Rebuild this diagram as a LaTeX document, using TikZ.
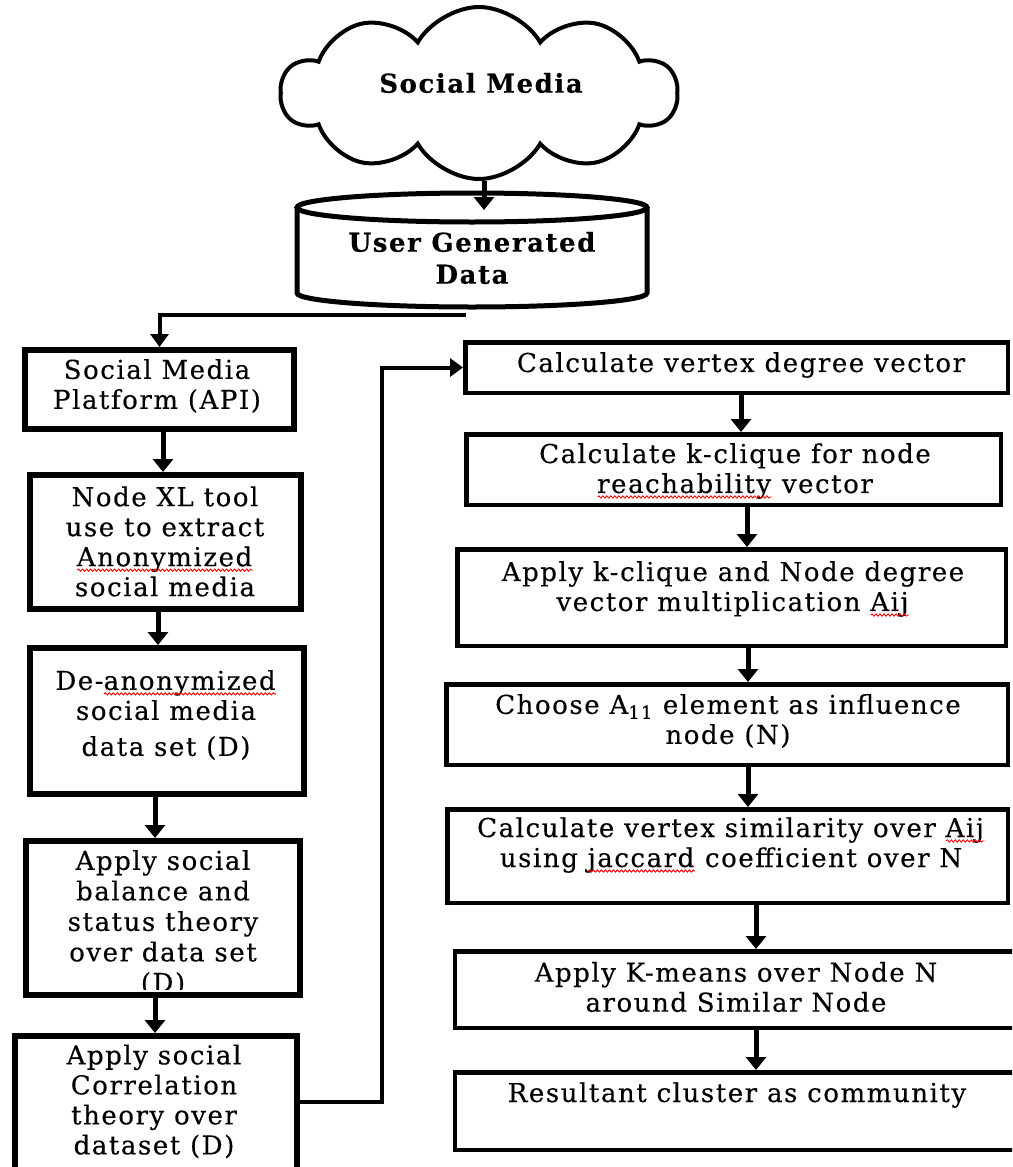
\documentclass[tikz,border=0pt]{standalone}
\usepackage{fontspec}
\setmainfont{DejaVu Serif}[LetterSpace=6,FakeBold=0.3]
\usetikzlibrary{arrows.meta,shapes.symbols,decorations.pathmorphing,calc}
\newsavebox\sqbox
\newcommand\sq[1]{\sbox\sqbox{#1}\rlap{\usebox\sqbox}\tikz[baseline=0pt]\draw[red,line width=0.9pt,decorate,decoration={snake,amplitude=1.1pt,segment length=4pt}] (0pt,-4pt) -- (\wd\sqbox,-4pt);}
\begin{document}
\begin{tikzpicture}[x=1pt,y=-1pt,
  txt/.style={align=center, font=\fontsize{26}{30}\selectfont, inner sep=0pt},
  btxt/.style={align=center, font=\fontsize{26}{32}\selectfont\bfseries, inner sep=0pt},
  lbox/.style={draw, line width=6pt, inner sep=0pt},
  rbox/.style={draw, line width=4.5pt, inner sep=0pt},
  arr/.style={line width=5pt, -{Triangle[length=13pt,width=20pt]}},
  thinarr/.style={line width=4pt, -{Triangle[length=13pt,width=18pt]}},
]
\useasboundingbox (0,0) rectangle (1012,1167);
\clip (0,0) rectangle (1012,1167);
\fill[white] (0,0) rectangle (1012,1167);

% cloud
\node[cloud, draw, line width=4pt, cloud puffs=10, cloud puff arc=120, cloud ignores aspect,
      minimum width=396pt, minimum height=172pt, inner sep=0pt] (cloud) at (479,93) {};
\node[btxt] (tcloud) at (481,83) {Social Media};

% cylinder
\node[minimum width=350pt, minimum height=114pt, inner sep=0pt] (db) at (472,250) {};
\draw[line width=5pt] (297,207.5) -- (297,293) arc[start angle=180,end angle=360,x radius=175pt,y radius=14pt] -- (647,207.5);
\draw[line width=5pt] (472,207.5) ellipse [x radius=175pt, y radius=14.5pt];
\node[btxt] (tdb) at (472,258) {User Generated\\Data};
\coordinate (dbtop) at (484,210);
\coordinate (dbout) at (466,315);

% left column
\node[lbox, minimum width=269pt, minimum height=79pt]  (L1) at (159.5,389.5) {};
\node[lbox, minimum width=271pt, minimum height=134pt] (L2) at (165.5,542) {};
\node[lbox, minimum width=274pt, minimum height=146pt] (L3) at (167,721) {};
\node[lbox, minimum width=274pt, minimum height=154pt] (L4) at (163,918) {};
\node[lbox, minimum width=282pt, minimum height=180pt] (L5) at (156,1126) {};

\node[txt] (tL1) at (157,386) {Social Media\\Platform (API)};
\node[txt] (tL2) at (165,541.5) {Node XL tool\\use to extract\\\sq{Anonymized}\\social media};
\node[txt] (tL3) at (166,715) {De-\sq{anonymized}\\social media\\[6pt]data set (D)};
\begin{scope}
  \clip (L4.north west) rectangle ([yshift=9pt]L4.south east);
  \node[txt, font=\fontsize{26}{30.5}\selectfont] (tL4) at (163,923) {Apply social\\balance and\\status theory\\over data set\\(D)};
\end{scope}
\node[txt] (tL5) at (154,1101.5) {Apply social\\Correlation\\theory over\\dataset (D)};

% right column
\node[rbox, minimum width=542.5pt, minimum height=50.5pt] (R1) at (736.5,367.5) {};
\node[rbox, minimum width=534.5pt, minimum height=70.5pt] (R2) at (733.5,469.5) {};
\node[rbox, minimum width=548.5pt, minimum height=96.5pt] (R3) at (731.5,597.5) {};
\node[rbox, minimum width=561.5pt, minimum height=80.5pt] (R4) at (727,724.5) {};
\node[rbox, minimum width=560.5pt, minimum height=93.5pt] (R5) at (727.5,856) {};
\node[rbox, minimum width=570pt, minimum height=76.5pt]   (R6) at (740,989.5) {};
\node[rbox, minimum width=570pt, minimum height=77.5pt]   (R7) at (740,1111) {};

\node[txt] (tR1) at (741,365) {Calculate vertex degree vector};
\node[txt] (tR2) at (735,471) {Calculate k-clique for node\\\sq{reachability} vector};
\node[txt] (tR3) at (733,589) {Apply k-clique and Node degree\\vector multiplication \sq{Aij}};
\node[txt] (tR4) at (728,721) {Choose A\textsubscript{11} element as influence\\node (N)};
\node[txt] (tR5) at (731,845) {Calculate vertex similarity over \sq{Aij}\\using \sq{jaccard} coefficient over N};
\node[txt] (tR6) at (736,987) {Apply K-means over Node N\\around Similar Node};
\node[txt] (tR7) at (737,1095) {Resultant cluster as community};

% connectors
\draw[arr] (484,0 |- cloud.south) -- (dbtop);
\draw[thinarr] (dbout) -| (L1.north);
\draw[arr] (163,0 |- L1.south) -- (163,0 |- L2.north);
\draw[arr] (158,0 |- L2.south) -- (158,0 |- L3.north);
\draw[arr] (155,0 |- L3.south) -- (155,0 |- L4.north);
\draw[arr] (155,0 |- L4.south) -- (155,0 |- L5.north);
\draw[thinarr] (L5.east |- 0,1102) -- (382,1102) |- (R1.west);
\draw[arr] (741,0 |- R1.south) -- (741,0 |- R2.north);
\draw[arr] (747,0 |- R2.south) -- (747,0 |- R3.north);
\draw[arr] (748,0 |- R3.south) -- (748,0 |- R4.north);
\draw[arr] (748,0 |- R4.south) -- (748,0 |- R5.north);
\draw[arr] (756,0 |- R5.south) -- (756,0 |- R6.north);
\draw[arr] (756,0 |- R6.south) -- (756,0 |- R7.north);
\end{tikzpicture}
\end{document}
